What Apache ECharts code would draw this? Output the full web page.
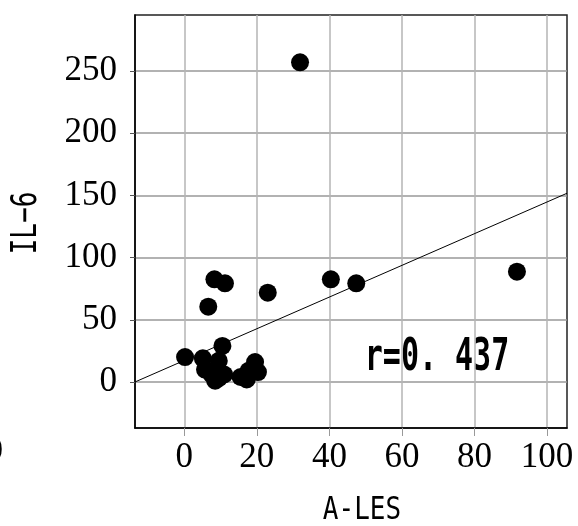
<!DOCTYPE html>
<html>
<head>
<meta charset="utf-8">
<script src="https://cdn.jsdelivr.net/npm/echarts@6/dist/echarts.min.js"></script>
<style>
  html, body { margin: 0; padding: 0; background: #fff; }
  #main { width: 578px; height: 526px; }
</style>
</head>
<body>
<div id="main"></div>
<script>
// A-LES / IL-6 のデータ
const points = [
  [0.2, 20], [5.1, 19], [10.5, 29], [9.5, 17], [5.7, 10], [7.5, 6],
  [8.5, 1], [9.5, 3], [11, 6], [15.5, 4], [17.2, 2], [17.7, 9],
  [19.5, 16], [20.3, 8], [6.6, 60.5], [8.3, 82.5], [11.2, 79.3],
  [23, 71.8], [40.4, 82.5], [47.4, 79.3], [91.7, 88.7], [31.9, 257]
];
// 回帰直線（図から読み取った両端）
const fitLine = [[-13.6, 0], [105.5, 151.7]];
const xTicks = [0, 20, 40, 60, 80, 100];
const yTicks = [0, 50, 100, 150, 200, 250];

const myChart = echarts.init(document.getElementById('main'));
const option = {
  animation: false,
  backgroundColor: '#fff',
  grid: {
    left: 135, top: 15, right: 11, bottom: 98,
    show: true, borderColor: '#222', borderWidth: 1.5
  },
  xAxis: {
    type: 'value', min: -13.6, max: 105.5,
    axisLine: { show: true, onZero: false, lineStyle: { color: '#000', width: 1.5 } },
    axisTick: { show: true, length: 8, customValues: xTicks, lineStyle: { color: '#999' } },
    axisLabel: {
      customValues: xTicks, margin: 12,
      fontFamily: 'Liberation Serif', fontSize: 35, color: '#000'
    },
    splitLine: { show: true, lineStyle: { color: '#b5b5b5', width: 1.5 } }
  },
  yAxis: {
    type: 'value', min: -37, max: 295,
    axisLine: { show: true, onZero: false, lineStyle: { color: '#000', width: 1.5 } },
    axisTick: { show: true, length: 5, customValues: yTicks, lineStyle: { color: '#555' } },
    axisLabel: {
      customValues: yTicks, margin: 18,
      fontFamily: 'Liberation Serif', fontSize: 35, color: '#000'
    },
    splitLine: { show: true, lineStyle: { color: '#999', width: 1.5 } }
  },
  graphic: [
    {
      type: 'text', x: 362, y: 511, scaleY: 1.25,
      style: { text: 'A-LES', font: '26px "DejaVu Sans Mono"', fill: '#000', textAlign: 'center', textVerticalAlign: 'middle' }
    },
    {
      type: 'text', x: 27, y: 223, rotation: Math.PI / 2, scaleY: 1.35,
      style: { text: 'IL−6', font: '26px "DejaVu Sans Mono"', fill: '#000', textAlign: 'center', textVerticalAlign: 'middle' }
    },
    {
      type: 'text', x: 437, y: 358, scaleY: 1.5,
      style: { text: 'r=0. 437', font: 'bold 30px "DejaVu Sans Mono"', fill: '#000', textAlign: 'center', textVerticalAlign: 'middle' }
    },
    {
      type: 'text', x: 3, y: 451,
      style: { text: '0', font: '33px "Liberation Serif"', fill: '#000', textAlign: 'right', textVerticalAlign: 'middle' }
    }
  ],
  series: [
    {
      type: 'line',
      data: fitLine,
      symbol: 'none',
      lineStyle: { color: '#000', width: 1 },
      z: 2
    },
    {
      type: 'scatter',
      data: points,
      symbolSize: 18,
      itemStyle: { color: '#000', opacity: 1 },
      z: 3
    }
  ]
};
myChart.setOption(option);
</script>
</body>
</html>
